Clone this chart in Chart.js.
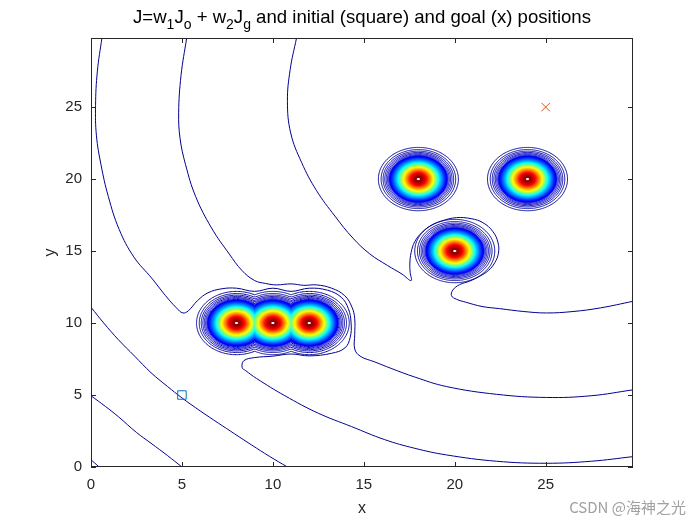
<!DOCTYPE html>
<html>
<head>
<meta charset="utf-8">
<script src="https://cdn.jsdelivr.net/npm/chart.js@4.4.0/dist/chart.umd.min.js"></script>
<style>
  body { margin: 0; background: #fff; }
</style>
</head>
<body>
<canvas id="chart" width="700" height="525"></canvas>
<script>
// obstacles, start and goal
const obstacleX = [8, 10, 12, 18, 20, 24];
const obstacleY = [10, 10, 10, 20, 15, 20];
const obstacleGroups = [[0, 1, 2], [3], [4], [5]];
const startPos = [5, 5];
const goalPos = [25, 25];

// contour rings round the obstacles (radius, level on the colour scale 0..1)
const lineRadii = [2.2, 2.05, 1.94, 1.85, 1.77, 1.7, 1.64, 1.59];
const lineLevels = [0.02, 0.03, 0.04, 0.05, 0.06, 0.07, 0.08, 0.09];
const bandRadii = [1.55, 1.5, 1.45, 1.4, 1.35, 1.3, 1.25, 1.2, 1.15, 1.1, 1.05, 1.0, 0.95, 0.9, 0.85,
  0.8, 0.75, 0.7, 0.65, 0.6, 0.55, 0.5, 0.45, 0.4, 0.35, 0.3, 0.25, 0.2, 0.15];
const bandLevels = [0.11, 0.13, 0.15, 0.18, 0.21, 0.24, 0.27, 0.30, 0.33, 0.37, 0.41, 0.45, 0.49, 0.53, 0.57,
  0.61, 0.64, 0.67, 0.71, 0.74, 0.77, 0.81, 0.84, 0.87, 0.90, 0.92, 0.94, 0.96, 0.98];

// the long contour lines of J
const contour1 = [[0, 0.5], [0.2, 0.28], [0.45, 0]];
const contour2 = [[0, 4.95], [0.8, 4.2], [1.5, 3.5], [2.5, 2.4], [3.3, 1.65], [4.2, 0.8], [5.0, 0]];
const contour3 = [[0, 11.1], [0.7, 10.0], [1.5, 8.85], [2.4, 7.7], [3.3, 6.55], [4.2, 5.6], [5.0, 4.8],
  [6.0, 3.9], [7.0, 3.05], [7.9, 2.3], [8.83, 1.53], [9.8, 0.75], [10.8, 0]];
const contour4 = [[0.6, 29.8], [0.35, 27.5], [0.25, 25.1], [0.3, 23.0], [0.55, 21.0], [0.95, 18.8],
  [1.55, 16.5], [2.35, 14.6], [3.35, 13.1], [4.1, 11.9], [4.7, 11.05], [5.05, 10.7], [5.35, 10.85],
  [5.85, 11.55], [6.43, 12.1], [7.2, 12.38], [8.0, 12.42], [9.0, 12.2], [10.0, 12.42], [11.0, 12.2],
  [12.0, 12.42], [13.0, 12.28], [13.75, 11.8], [14.15, 11.0], [14.3, 10.0], [14.25, 9.0], [13.96, 8.27],
  [13.23, 7.9], [12.0, 7.72], [11.0, 7.85], [10.0, 7.7], [9.0, 7.6], [8.4, 7.38], [8.31, 6.9],
  [8.5, 6.7], [9.1, 6.15], [10.66, 4.95], [12.49, 3.74], [14.32, 2.81], [16.15, 1.9], [17.8, 1.3],
  [19.54, 0.84], [22.3, 0.4], [25.04, 0.26], [27.5, 0.4], [29.8, 0.72]];
const contour5 = [[5.26, 29.8], [4.95, 27.2], [4.82, 24.6], [4.9, 22.8], [5.2, 21.0], [5.75, 18.8],
  [6.63, 16.6], [7.6, 14.8], [8.3, 13.65], [9.0, 12.95], [9.6, 12.75], [10.2, 12.65], [11.0, 12.72],
  [11.7, 12.62], [12.4, 12.65], [13.23, 12.42], [13.95, 11.9], [14.35, 11.1], [14.5, 10.3],
  [14.5, 9.2], [14.5, 8.2], [14.8, 7.7], [15.6, 7.3], [16.5, 6.85], [17.8, 6.25],
  [19.54, 5.59], [22.3, 5.05], [25.04, 4.83], [27.5, 4.95], [29.8, 5.36]];
const contour6 = [[11.3, 29.8], [10.95, 27.6], [10.8, 25.4], [10.98, 23.2], [11.58, 21.15], [12.4, 19.2],
  [13.41, 17.43], [14.4, 15.9], [15.33, 14.8], [16.3, 14.0], [17.1, 13.4], [17.6, 12.95],
  [17.55, 13.5], [17.53, 14.1], [17.6, 14.9], [17.8, 15.65], [18.2, 16.3], [18.7, 16.78], [19.3, 17.1],
  [20.09, 17.32], [20.9, 17.25], [21.55, 16.97], [22.1, 16.35], [22.38, 15.58], [22.4, 14.85],
  [22.2, 14.19], [21.85, 13.65], [21.37, 13.25], [20.8, 12.9], [20.27, 12.67], [19.9, 12.3],
  [19.82, 11.9], [20.1, 11.65], [20.6, 11.45], [21.5, 11.15], [22.47, 11.0], [23.8, 10.8],
  [25.04, 10.7], [26.5, 10.8], [28.0, 11.05], [29.8, 11.51]];
const contours = [contour1, contour2, contour3, contour4, contour5, contour6];

const xTicks = [0, 5, 10, 15, 20, 25];
const yTicks = [0, 5, 10, 15, 20, 25];

const FONT = '"Liberation Sans", Arial, sans-serif';
const INK = '#262626';

function jetColor(v) {
  const c = t => Math.round(255 * Math.max(0, Math.min(1, t)));
  return `rgb(${c(1.5 - Math.abs(4 * v - 3))},${c(1.5 - Math.abs(4 * v - 2))},${c(1.5 - Math.abs(4 * v - 1))})`;
}

// outline of the union of circles of radius r round the obstacles of one group
function groupOutline(group, r) {
  let cx = 0, cy = 0;
  group.forEach(k => { cx += obstacleX[k] / group.length; cy += obstacleY[k] / group.length; });
  const pts = [];
  for (let i = 0; i <= 120; i++) {
    const a = i / 120 * 2 * Math.PI, ux = Math.cos(a), uy = Math.sin(a);
    let t = 0;
    group.forEach(k => {
      const dx = obstacleX[k] - cx, dy = obstacleY[k] - cy;
      const b = ux * dx + uy * dy;
      const disc = b * b - (dx * dx + dy * dy) + r * r;
      if (disc >= 0) t = Math.max(t, b + Math.sqrt(disc));
    });
    pts.push({ x: cx + t * ux, y: cy + t * uy });
  }
  return pts;
}

const datasets = [];
// thin outer rings
lineRadii.forEach((r, i) => {
  obstacleGroups.forEach(g => {
    datasets.push({ data: groupOutline(g, r), borderColor: jetColor(lineLevels[i]), borderWidth: 1,
      tension: 0.05, order: 1000 - i });
  });
});
// packed inner rings, drawn outside-in so they blend into a solid colour
bandRadii.forEach((r, i) => {
  obstacleX.forEach((_, k) => {
    datasets.push({ data: groupOutline([k], r), borderColor: jetColor(bandLevels[i]), borderWidth: 2.2,
      tension: 0.05, order: 900 - i });
  });
});
contours.forEach(c => {
  datasets.push({ data: c.map(p => ({ x: p[0], y: p[1] })), borderColor: '#00008F', borderWidth: 1,
    tension: 0.4, order: 0 });
});
datasets.push({ data: [{ x: startPos[0], y: startPos[1] }], showLine: false, pointStyle: 'rect',
  pointRadius: 6, pointBorderColor: '#0072BD', pointBackgroundColor: 'rgba(0,0,0,0)',
  pointBorderWidth: 1, order: -1 });
datasets.push({ data: [{ x: goalPos[0], y: goalPos[1] }], showLine: false, pointStyle: 'crossRot',
  pointRadius: 6, pointBorderColor: '#D95319', pointBorderWidth: 1, order: -1 });

const frame = {
  id: 'frame',
  afterDraw(chart) {
    const { ctx, chartArea: a, scales: { x, y } } = chart;
    ctx.save();
    ctx.strokeStyle = INK;
    ctx.lineWidth = 1;
    ctx.strokeRect(a.left + 0.5, a.top + 0.5, a.width - 1, a.height - 1);
    ctx.beginPath();
    xTicks.forEach(v => {
      const px = Math.round(x.getPixelForValue(v)) + 0.5;
      ctx.moveTo(px, a.bottom); ctx.lineTo(px, a.bottom - 5);
      ctx.moveTo(px, a.top); ctx.lineTo(px, a.top + 5);
    });
    yTicks.forEach(v => {
      const py = Math.round(y.getPixelForValue(v)) + 0.5;
      ctx.moveTo(a.left, py); ctx.lineTo(a.left + 5, py);
      ctx.moveTo(a.right, py); ctx.lineTo(a.right - 5, py);
    });
    ctx.stroke();

    // title with subscripts
    const parts = [['J=w', 0], ['1', 1], ['J', 0], ['o', 1], [' + w', 0], ['2', 1], ['J', 0], ['g', 1],
      [' and initial (square) and goal (x) positions', 0]];
    const main = 18.6, sub = 14;
    let w = 0;
    parts.forEach(p => { ctx.font = `${p[1] ? sub : main}px ${FONT}`; w += ctx.measureText(p[0]).width; });
    let tx = (a.left + a.right) / 2 - w / 2;
    ctx.fillStyle = '#000';
    ctx.textBaseline = 'alphabetic';
    ctx.textAlign = 'left';
    parts.forEach(p => {
      ctx.font = `${p[1] ? sub : main}px ${FONT}`;
      ctx.fillText(p[0], tx, p[1] ? 29 : 23);
      tx += ctx.measureText(p[0]).width;
    });

    // axis labels
    ctx.fillStyle = INK;
    ctx.font = `16px ${FONT}`;
    ctx.textAlign = 'center';
    ctx.textBaseline = 'middle';
    ctx.fillText('x', (a.left + a.right) / 2, 509);
    ctx.save();
    ctx.translate(51, (a.top + a.bottom) / 2);
    ctx.rotate(-Math.PI / 2);
    ctx.fillText('y', 0, 0);
    ctx.restore();

    // watermark
    ctx.fillStyle = '#a0a0a0';
    ctx.font = '15px "Noto Sans CJK SC", sans-serif';
    ctx.textAlign = 'right';
    ctx.textBaseline = 'middle';
    ctx.fillText('CSDN @海神之光', 686, 507);
    ctx.restore();
  }
};

new Chart(document.getElementById('chart'), {
  type: 'scatter',
  data: { datasets },
  plugins: [frame],
  options: {
    responsive: false,
    animation: false,
    events: [],
    layout: { padding: { top: 38, right: 67, left: 0, bottom: 0 } },
    elements: { point: { radius: 0 }, line: { tension: 0, fill: false } },
    datasets: { scatter: { showLine: true } },
    plugins: { legend: { display: false }, tooltip: { enabled: false }, title: { display: false } },
    scales: {
      x: {
        type: 'linear', min: 0, max: 29.8,
        afterBuildTicks: s => { s.ticks = xTicks.map(v => ({ value: v })); },
        afterFit: s => { s.height = 58; },
        grid: { display: false, drawTicks: false },
        border: { display: false },
        ticks: { autoSkip: false, maxRotation: 0, padding: 9, color: INK, font: { family: FONT, size: 15 } }
      },
      y: {
        type: 'linear', min: 0, max: 29.8,
        afterBuildTicks: s => { s.ticks = yTicks.map(v => ({ value: v })); },
        afterFit: s => { s.width = 91; },
        grid: { display: false, drawTicks: false },
        border: { display: false },
        ticks: { autoSkip: false, padding: 9, color: INK, font: { family: FONT, size: 15 } }
      }
    }
  }
});
</script>
</body>
</html>
